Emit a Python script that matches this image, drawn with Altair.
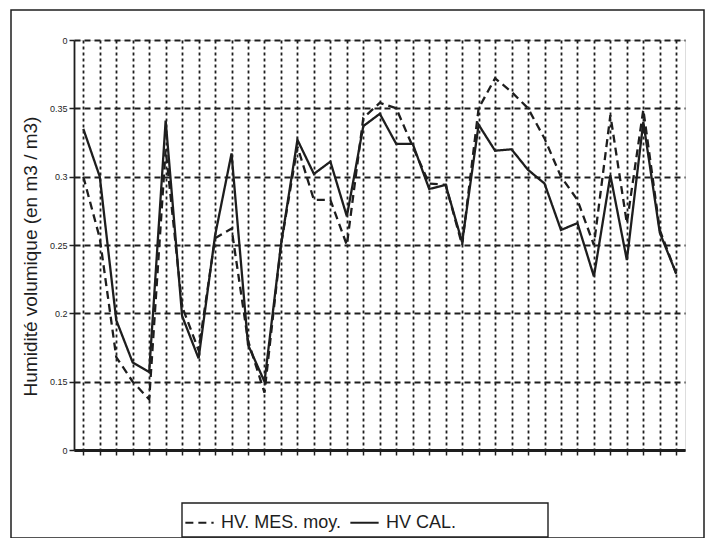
import altair as alt
import pandas as pd

# category index (37 measurement dates)
idx = list(range(37))

hv_mes = [0.30, 0.255, 0.168, 0.15, 0.137, 0.32, 0.205, 0.173, 0.255, 0.262,
          0.18, 0.142, 0.25, 0.322, 0.283, 0.283, 0.25, 0.343, 0.354, 0.35,
          0.322, 0.295, 0.294, 0.25, 0.35, 0.372, 0.362, 0.35, 0.328, 0.30,
          0.283, 0.25, 0.345, 0.266, 0.349, 0.261, 0.229]
hv_cal = [0.335, 0.30, 0.195, 0.164, 0.157, 0.341, 0.198, 0.167, 0.257, 0.317,
          0.177, 0.15, 0.25, 0.327, 0.302, 0.311, 0.271, 0.337, 0.346, 0.324,
          0.324, 0.291, 0.294, 0.252, 0.338, 0.319, 0.320, 0.305, 0.295, 0.261,
          0.266, 0.227, 0.301, 0.239, 0.34, 0.259, 0.229]
series_names = ["HV. MES. moy.", "HV CAL."]
y_ticks = [0.1, 0.15, 0.2, 0.25, 0.3, 0.35, 0.4]
y_labels = ["0", "0.15", "0.2", "0.25", "0.3", "0.35", "0"]

df = pd.DataFrame({
    "i": idx * 2,
    "v": hv_mes + hv_cal,
    "s": [series_names[0]] * len(hv_mes) + [series_names[1]] * len(hv_cal),
})

# label expression built from tick lists
expr = "''"
for val, lab in reversed(list(zip(y_ticks, y_labels))):
    expr = f"(abs(datum.value - {val}) < 0.001 ? '{lab}' : {expr})"

INK = "#1e1e1e"

lines = alt.Chart(df).mark_line(strokeWidth=2.3, color=INK).encode(
    x=alt.X("i:Q",
            scale=alt.Scale(domain=[-0.565, 36.53], nice=False, zero=False),
            axis=alt.Axis(values=idx, labels=False, title=None, grid=True,
                          gridDash=[3, 3], gridColor=INK, gridWidth=1.8,
                          ticks=True, tickSize=5, tickColor=INK, tickWidth=1.5,
                          domainWidth=3, domainColor=INK)),
    y=alt.Y("v:Q",
            scale=alt.Scale(domain=[0.1, 0.4], nice=False, zero=False),
            axis=alt.Axis(values=y_ticks, labelExpr=expr,
                          title="Humidité volumique (en m3 / m3)",
                          grid=True, gridDash=[6, 4], gridWidth=2,
                          gridColor=INK, tickSize=5, tickColor=INK,
                          tickWidth=1.5, domainColor=INK, domainWidth=1.8,
                          labelFontSize=9, labelColor=INK,
                          labelFont="Liberation Sans",
                          titleFontSize=19, titleFont="Liberation Sans",
                          titleFontWeight="normal", titleColor=INK,
                          titleX=-44, titleY=216, titleAngle=270,
                          titleAlign="center", titleBaseline="middle")),
    strokeDash=alt.StrokeDash("s:N",
                              scale=alt.Scale(domain=series_names,
                                              range=[[8, 5], [1, 0]]),
                              legend=alt.Legend(title=None, orient="none",
                                                legendX=110, legendY=467,
                                                direction="horizontal",
                                                symbolType="stroke",
                                                symbolStrokeColor=INK,
                                                symbolStrokeWidth=1.8,
                                                symbolSize=800,
                                                labelFontSize=18,
                                                labelFont="Liberation Sans",
                                                labelColor=INK,
                                                columnPadding=4,
                                                labelOffset=6)),
    detail="s:N",
)

one = pd.DataFrame({"a": [0]})
frame = alt.Chart(one).mark_rect(fill=None, stroke=INK, strokeWidth=1.5).encode(
    x=alt.value(-63), x2=alt.value(630), y=alt.value(-30), y2=alt.value(498))
legend_box = alt.Chart(one).mark_rect(fill="white", stroke=INK, strokeWidth=1.4).encode(
    x=alt.value(108), x2=alt.value(474), y=alt.value(463), y2=alt.value(497))

chart = alt.layer(frame, legend_box, lines).properties(
    width=611, height=410,
    autosize=alt.AutoSizeParams(type="none"),
    padding={"left": 66, "top": 32, "right": 26, "bottom": 88},
).configure_view(stroke=INK, strokeWidth=2.2).configure(background="white")

chart.save("out.html", embed_options={"renderer": "svg", "actions": False})
